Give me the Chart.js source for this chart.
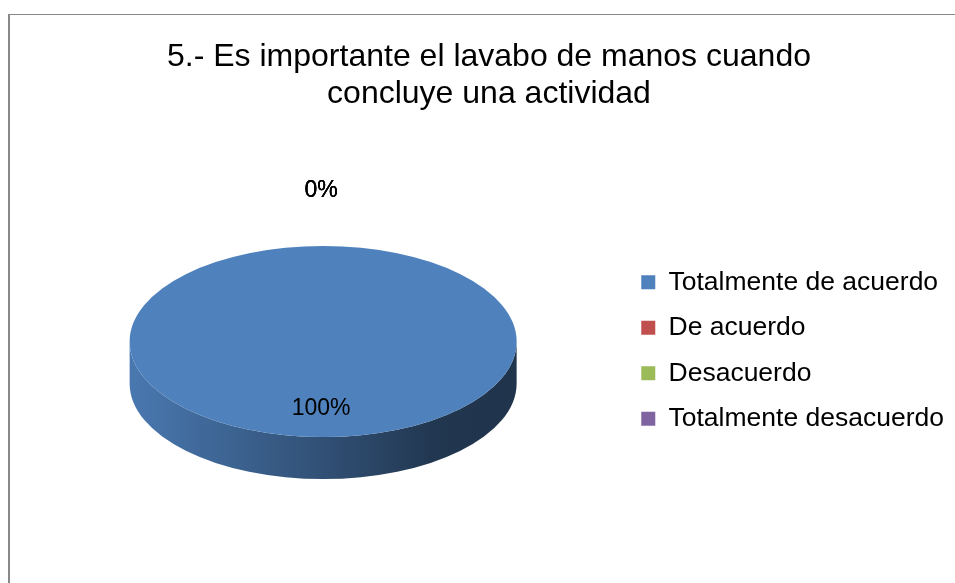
<!DOCTYPE html>
<html>
<head>
<meta charset="utf-8">
<script src="https://cdn.jsdelivr.net/npm/chart.js@4.4.0/dist/chart.umd.min.js"></script>
<style>
  html, body { margin: 0; padding: 0; background: #fff; overflow: hidden; }
  #wrap { position: relative; width: 955px; height: 583px; }
  #frame { position: absolute; left: 8px; top: 14px; width: 1000px; height: 600px;
           border-left: 2px solid #898989; border-top: 1px solid #898989; }
  canvas { position: absolute; left: 0; top: 0; }
</style>
</head>
<body>
<div id="wrap">
  <div id="frame"></div>
  <canvas id="pie" width="955" height="583"></canvas>
</div>
<script>
// data
const titleLines = ['5.- Es importante el lavabo de manos cuando', 'concluye una actividad'];
const categories = ['Totalmente de acuerdo', 'De acuerdo', 'Desacuerdo', 'Totalmente desacuerdo'];
const values = [100, 0, 0, 0];
const colors = ['#4F81BD', '#C0504D', '#9BBB59', '#8064A2'];

const FONT = '"Liberation Sans", Arial, sans-serif';
const SQUASH = 0.4935;   // vertical squash of the pie (fake 3d tilt)
const DEPTH = 42;        // thickness of the pie side in px
const IN_POS = 0.705;    // label distance for visible slices
const OUT_POS = 1.58;    // label distance for empty slices

function shade(hex, f) {
  const n = parseInt(hex.slice(1), 16);
  const r = Math.round(((n >> 16) & 255) * f);
  const g = Math.round(((n >> 8) & 255) * f);
  const b = Math.round((n & 255) * f);
  return 'rgb(' + r + ',' + g + ',' + b + ')';
}

// squash the pie and draw its side before the top face
const tilt = {
  id: 'tilt',
  beforeDatasetsDraw(chart) {
    const ctx = chart.ctx;
    const arcs = chart.getDatasetMeta(0).data;
    if (!arcs.length) return;
    const {x, y, outerRadius: r} = arcs[0];
    const ry = r * SQUASH;
    ctx.save();
    arcs.forEach((arc, i) => {
      const s = arc.startAngle, e = arc.endAngle;
      if (e - s <= 0) return;
      const g = ctx.createLinearGradient(x - r, 0, x + r, 0);
      g.addColorStop(0, shade(colors[i], 0.93));
      g.addColorStop(0.5, shade(colors[i], 0.62));
      g.addColorStop(0.8, shade(colors[i], 0.42));
      g.addColorStop(1, shade(colors[i], 0.4));
      [-2 * Math.PI, 0, 2 * Math.PI].forEach(k => {
        const a = Math.max(s, k), b = Math.min(e, k + Math.PI);
        if (a >= b) return;
        ctx.beginPath();
        ctx.ellipse(x, y, r, ry, 0, a, b);
        ctx.ellipse(x, y + DEPTH, r, ry, 0, b, a, true);
        ctx.closePath();
        ctx.fillStyle = g;
        ctx.fill();
      });
    });
    ctx.restore();
    ctx.save();
    ctx.translate(x, y);
    ctx.scale(1, SQUASH);
    ctx.translate(-x, -y);
  },
  afterDatasetsDraw(chart) {
    chart.ctx.restore();
  }
};

// percentage labels
const pctLabels = {
  id: 'pctLabels',
  afterDatasetsDraw(chart) {
    const ctx = chart.ctx;
    const total = values.reduce((a, b) => a + b, 0);
    ctx.save();
    ctx.font = '23px ' + FONT;
    ctx.fillStyle = '#000';
    ctx.textAlign = 'center';
    ctx.textBaseline = 'middle';
    chart.getDatasetMeta(0).data.forEach((arc, i) => {
      const mid = (arc.startAngle + arc.endAngle) / 2;
      const f = values[i] > 0 ? IN_POS : OUT_POS;
      const px = arc.x + Math.cos(mid) * arc.outerRadius * f - 2;
      const py = arc.y + Math.sin(mid) * arc.outerRadius * f * SQUASH;
      ctx.fillText(Math.round(values[i] / total * 100) + '%', px, py);
    });
    ctx.restore();
  }
};

new Chart(document.getElementById('pie'), {
  type: 'pie',
  data: {
    labels: categories,
    datasets: [{
      data: values,
      backgroundColor: colors,
      borderWidth: 0,
      clip: false
    }]
  },
  options: {
    responsive: false,
    animation: false,
    devicePixelRatio: 1,
    layout: { padding: { left: 24, right: 1, top: 0, bottom: 48 } },
    plugins: {
      title: {
        display: true,
        text: titleLines,
        color: '#000',
        font: { family: FONT, size: 32, weight: 'normal', lineHeight: 1.15 },
        padding: { top: 38.6, bottom: 35.8 }
      },
      legend: {
        position: 'right',
        fullSize: false,
        title: { display: true, text: ' ', font: { size: 10, lineHeight: 1 }, padding: { top: 4, bottom: 4 } },
        labels: {
          color: '#000',
          font: { family: FONT, size: 26.5 },
          boxWidth: 14,
          boxHeight: 14,
          padding: 19
        }
      },
      tooltip: { enabled: false }
    }
  },
  plugins: [tilt, pctLabels]
});
</script>
</body>
</html>
